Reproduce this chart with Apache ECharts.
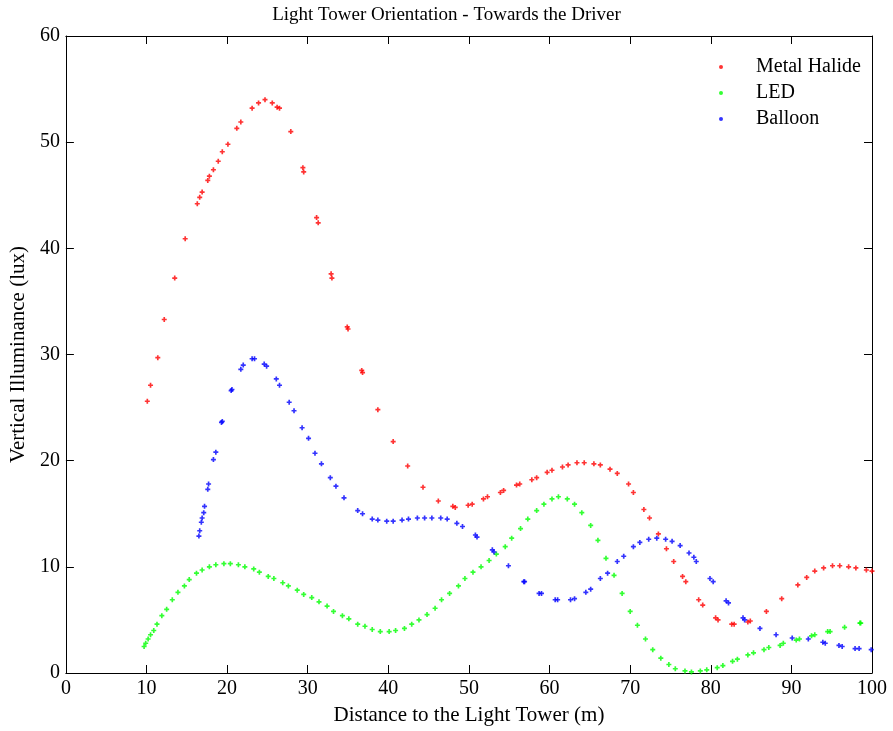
<!DOCTYPE html>
<html><head><meta charset="utf-8">
<script src="https://cdn.jsdelivr.net/npm/echarts@6/dist/echarts.min.js"></script>
<style>html,body{margin:0;padding:0;background:#fff}#c{width:893px;height:731px}</style>
</head><body><div id="c"></div>
<script>
const seriesNames = ['Metal Halide', 'LED', 'Balloon'];
const mhX = [10.1,10.5,11.4,12.2,13.5,14.8,16.3,16.6,16.9,17.6,17.8,18.3,18.9,19.4,20.1,21.2,21.7,23.1,23.9,24.7,25.6,26.2,26.5,27.9,29.4,29.5,31.1,31.3,32.9,33.0,34.9,35.0,36.7,36.8,38.7,40.6,42.4,44.3,46.2,48.0,48.3,49.9,50.4,51.8,52.3,53.9,54.3,55.9,56.3,57.8,58.4,59.7,60.3,61.6,62.3,63.4,64.3,65.5,66.3,67.5,68.4,69.8,70.4,71.7,72.4,73.5,74.5,75.4,76.5,76.9,78.5,79.0,80.6,80.9,82.6,82.9,84.6,84.9,86.9,88.8,90.8,91.9,92.9,94.0,95.1,96.0,97.1,98.0,99.3,100];
const mhY = [25.6,27.1,29.7,33.3,37.2,40.9,44.2,44.8,45.3,46.4,46.8,47.4,48.2,49.1,49.8,51.3,51.9,53.2,53.7,54.0,53.7,53.3,53.2,51.0,47.6,47.2,42.9,42.4,37.6,37.2,32.6,32.4,28.5,28.3,24.8,21.8,19.5,17.5,16.2,15.7,15.6,15.8,15.9,16.4,16.6,17.0,17.2,17.7,17.8,18.2,18.4,18.9,19.1,19.4,19.6,19.8,19.8,19.7,19.6,19.2,18.8,17.8,17.0,15.4,14.6,13.1,11.7,10.5,9.1,8.6,6.9,6.4,5.2,5.0,4.6,4.6,4.8,4.9,5.8,7.0,8.3,9.0,9.6,9.9,10.1,10.1,10.0,9.9,9.7,9.6];
const ledX = [9.7,9.9,10.2,10.5,10.9,11.3,11.9,12.5,13.2,13.9,14.7,15.3,16.2,16.9,17.8,18.6,19.6,20.4,21.4,22.2,23.3,24.0,25.1,25.8,26.9,27.6,28.7,29.5,30.5,31.4,32.4,33.2,34.3,35.1,36.2,37.1,38.0,39.0,40.1,40.9,42.0,42.9,43.8,44.8,45.8,46.6,47.6,48.7,49.5,50.5,51.5,52.5,53.4,54.5,55.3,56.4,57.3,58.4,59.3,60.3,61.1,62.2,63.1,64.0,65.1,66.0,67.0,68.0,69.0,70.0,70.9,71.9,72.8,73.8,74.8,75.6,76.8,77.6,78.7,79.5,80.8,81.5,82.7,83.3,84.6,85.3,86.6,87.2,88.6,89.0,90.6,91.0,92.5,92.9,94.5,94.8,96.6,98.5,98.6];
const ledY = [2.5,2.8,3.2,3.6,4.0,4.6,5.4,6.0,6.9,7.6,8.2,8.8,9.4,9.7,10.0,10.2,10.3,10.3,10.2,10.0,9.8,9.5,9.1,8.9,8.5,8.2,7.8,7.4,7.1,6.7,6.3,5.8,5.4,5.1,4.6,4.4,4.1,3.9,3.9,4.0,4.2,4.6,5.0,5.5,6.1,6.9,7.5,8.2,8.9,9.5,10.0,10.6,11.2,11.9,12.7,13.6,14.5,15.3,15.9,16.4,16.6,16.4,15.9,15.1,13.9,12.5,10.8,9.2,7.5,5.8,4.5,3.2,2.2,1.4,0.8,0.4,0.2,0.1,0.2,0.3,0.5,0.7,1.1,1.3,1.7,1.9,2.2,2.4,2.6,2.8,3.1,3.2,3.5,3.6,3.9,3.9,4.3,4.7,4.7];
const balX = [16.5,16.6,16.8,16.9,17.1,17.2,17.6,17.7,18.3,18.6,19.3,19.4,20.5,20.6,21.7,22.0,23.1,23.4,24.6,24.9,26.1,26.5,27.7,28.3,29.3,30.1,30.9,31.7,32.8,33.5,34.5,36.2,36.8,38.0,38.7,39.8,40.6,41.7,42.5,43.6,44.5,45.4,46.5,47.3,48.5,49.2,50.8,51.0,52.9,53.1,54.9,56.8,56.9,58.7,59.0,60.7,61.0,62.6,63.1,64.5,65.1,66.3,67.2,68.4,69.2,70.4,71.2,72.3,73.3,74.4,75.2,76.2,77.3,77.9,78.2,79.9,80.3,81.9,82.2,84.0,84.2,86.1,88.1,90.1,92.1,93.9,94.2,95.9,96.3,97.9,98.4,99.9];
const balY = [12.9,13.4,14.2,14.6,15.1,15.7,17.3,17.8,20.1,20.8,23.6,23.7,26.6,26.7,28.6,29.0,29.6,29.6,29.1,28.9,27.7,27.1,25.5,24.7,23.1,22.1,20.7,19.7,18.4,17.6,16.5,15.3,15.0,14.5,14.4,14.3,14.3,14.4,14.5,14.6,14.6,14.6,14.6,14.5,14.1,13.8,13.0,12.8,11.6,11.4,10.1,8.6,8.6,7.5,7.5,6.9,6.9,6.9,7.0,7.6,7.9,8.9,9.4,10.5,11.0,11.9,12.3,12.6,12.7,12.6,12.4,12.0,11.3,10.9,10.5,8.9,8.6,6.8,6.6,5.2,5.0,4.2,3.6,3.3,3.2,2.9,2.8,2.6,2.5,2.3,2.3,2.2];
const colors = ['#ff0000', '#00ff00', '#0000ff'];

const zip = (xs, ys) => xs.map((x, i) => [x, ys[i]]);
const font = 'Liberation Serif';
const plusMarker = 'path://M2,0H4V2H6V4H4V6H2V4H0V2H2Z';
const axisCommon = {
  min: 0, interval: 10,
  axisLine: {show: true, onZero: false, lineStyle: {color: '#000', width: 1}},
  axisTick: {show: true, inside: true, length: 8, lineStyle: {color: '#000'}},
  splitLine: {show: false},
  axisLabel: {color: '#000', fontFamily: font, fontSize: 20}
};
const chart = echarts.init(document.getElementById('c'), null, {renderer: 'canvas'});
chart.setOption({
  animation: false,
  backgroundColor: '#fff',
  title: {text: 'Light Tower Orientation - Towards the Driver', left: 'center', top: 1,
    textStyle: {fontFamily: font, fontSize: 19, fontWeight: 'normal', color: '#000'}},
  grid: {left: 64, right: 21, top: 36, bottom: 58},
  legend: {orient: 'vertical', left: 714, top: 52, itemGap: 6, icon: 'circle', itemWidth: 4, itemHeight: 4,
    textStyle: {fontFamily: font, fontSize: 20, color: '#000', padding: [0, 0, 0, 28]},
    data: seriesNames},
  xAxis: [
    Object.assign({}, axisCommon, {type: 'value', max: 100, position: 'bottom',
      name: 'Distance to the Light Tower (m)', nameLocation: 'middle', nameGap: 32,
      nameTextStyle: {fontFamily: font, fontSize: 21, color: '#000'},
      axisLabel: {color: '#000', fontFamily: font, fontSize: 20, margin: 6}}),
    Object.assign({}, axisCommon, {type: 'value', max: 100, position: 'top', axisLabel: {show: false}})
  ],
  yAxis: [
    Object.assign({}, axisCommon, {type: 'value', max: 60, position: 'left',
      name: 'Vertical Illuminance (lux)', nameLocation: 'middle', nameGap: 36,
      nameTextStyle: {fontFamily: font, fontSize: 21, color: '#000'},
      axisLabel: {color: '#000', fontFamily: font, fontSize: 20, margin: 6}}),
    Object.assign({}, axisCommon, {type: 'value', max: 60, position: 'right', axisLabel: {show: false}})
  ],
  series: [
    {name: seriesNames[0], type: 'scatter', data: zip(mhX, mhY), symbol: plusMarker, symbolSize: 5, itemStyle: {color: colors[0]}},
    {name: seriesNames[1], type: 'scatter', data: zip(ledX, ledY), symbol: plusMarker, symbolSize: 5, itemStyle: {color: colors[1]}},
    {name: seriesNames[2], type: 'scatter', data: zip(balX, balY), symbol: plusMarker, symbolSize: 5, itemStyle: {color: colors[2]}}
  ]
});
</script></body></html>
